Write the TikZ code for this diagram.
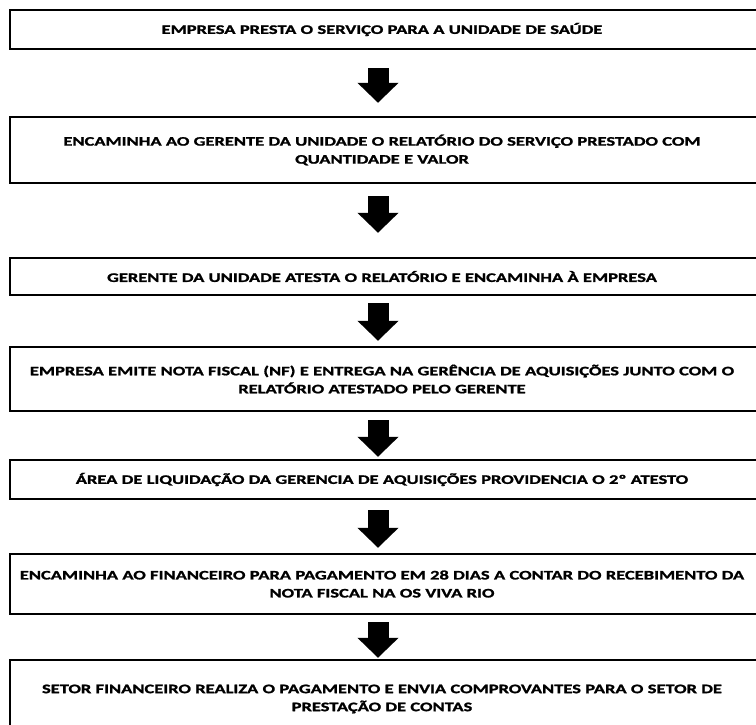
\documentclass[tikz,border=0pt]{standalone}
\usepackage{fontspec}
\setmainfont{Carlito}[FakeStretch=1.42,BoldFeatures={FakeBold=1.5}]
\usepackage{tikz}
\usetikzlibrary{arrows.meta}

\begin{document}
\begin{tikzpicture}[x=1pt,y=-1pt,
  stepbox/.style={text width=744pt,align=center,inner xsep=0pt,inner ysep=0pt,
    font=\fontsize{13}{18}\selectfont\bfseries,minimum height=#1},
  stepbox/.default=39pt,
  flowarrow/.style={line width=21pt,-{Triangle[width=40pt,length=20pt]}}]
\useasboundingbox (0,0) rectangle (756,725);

\node [stepbox] (s1) at (382,29.5) {EMPRESA PRESTA O SERVIÇO PARA A UNIDADE DE SAÚDE};
\node [stepbox=66pt] (s2) at (382,150) {ENCAMINHA AO GERENTE DA UNIDADE O RELATÓRIO DO SERVIÇO PRESTADO COM\\QUANTIDADE E VALOR};
\node [stepbox=37pt] (s3) at (382,276.5) {GERENTE DA UNIDADE ATESTA O RELATÓRIO E ENCAMINHA À EMPRESA};
\node [stepbox=64pt] (s4) at (382,379) {EMPRESA EMITE NOTA FISCAL (NF) E ENTREGA NA GERÊNCIA DE AQUISIÇÕES JUNTO COM O\\RELATÓRIO ATESTADO PELO GERENTE};
\node [stepbox] (s5) at (382,479.5) {ÁREA DE LIQUIDAÇÃO DA GERENCIA DE AQUISIÇÕES PROVIDENCIA O 2º ATESTO};
\node [stepbox=60pt] (s6) at (382,584) {ENCAMINHA AO FINANCEIRO PARA PAGAMENTO EM 28 DIAS A CONTAR DO RECEBIMENTO DA\\NOTA FISCAL NA OS VIVA RIO};
\node [stepbox=78pt] (s7) at (382,699) {SETOR FINANCEIRO REALIZA O PAGAMENTO E ENVIA COMPROVANTES PARA O SETOR DE\\PRESTAÇÃO DE CONTAS};

% boxes run off the right edge
\foreach \n in {s1,s2,s3,s4,s5,s6,s7}
  \draw [line width=1.6pt] (\n.south west) rectangle ([xshift=30pt]\n.north east);

\foreach \a/\b/\g/\h in {s1/s2/19/14, s2/s3/13/25, s3/s4/8/6, s4/s5/9/3, s5/s6/11/6, s6/s7/8/2}
  \draw [flowarrow,shorten <=\g pt,shorten >=\h pt] ([xshift=-4pt]\a.south) -- ([xshift=-4pt]\b.north);
\end{tikzpicture}
\end{document}
